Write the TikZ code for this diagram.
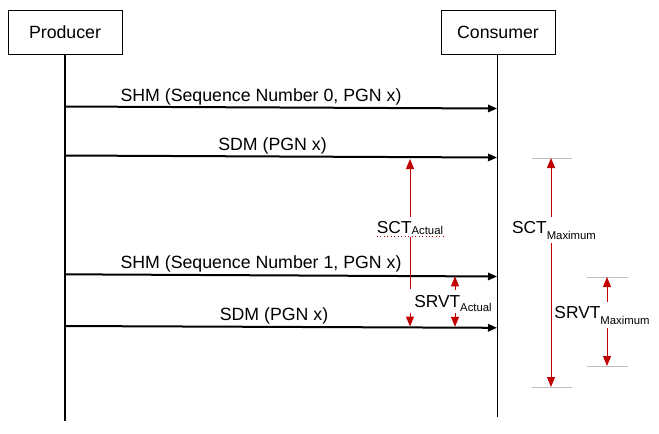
\documentclass[tikz,border=0pt]{standalone}
\usepackage{fontspec}
\setmainfont{Liberation Sans}
\usetikzlibrary{arrows.meta}
\definecolor{dimred}{HTML}{C00000}
\definecolor{tickgray}{HTML}{BFBFBF}
\newcommand\subtxt[2]{\raisebox{-#1}{\fontsize{8.5}{10}\selectfont #2}}
\begin{document}
\begin{tikzpicture}[x=0.75pt,y=-0.75pt,
  actor/.style={draw=black,line width=0.75pt,minimum width=85.5pt,minimum height=33pt,inner sep=0pt,font=\fontsize{13.3}{15}\selectfont},
  lifeline/.style={draw=black,line width=0.85pt},
  msg/.style={draw=black,line width=1.5pt,-{Triangle[length=6.75pt,width=5.5pt]}},
  msglabel/.style={anchor=base,inner sep=0pt,font=\fontsize{13.3}{15}\selectfont},
  dimlabel/.style={anchor=base,inner sep=0pt,font=\fontsize{13}{15}\selectfont},
  dimline/.style={draw=dimred,line width=0.75pt},
  dimtip/.style={dimline,-{Triangle[length=7.5pt,width=6pt]}},
  tick/.style={draw=tickgray,line width=0.75pt}]
\useasboundingbox (0,0) rectangle (659,433);

% actors
\node[actor] (prod) at (65,32) {Producer};
\node[actor] (cons) at (498,32) {Consumer};
\coordinate (prodtop) at (65,54);
\coordinate (prodend) at (65,421);
\coordinate (constop) at (497.5,54);
\coordinate (consend) at (497.5,417);
\draw[lifeline] (prodtop) -- (prodend);
\draw[lifeline] (constop) -- (consend);

% messages
\coordinate (m1s) at (65,106.5);  \coordinate (m1e) at (497,108.5);
\coordinate (m2s) at (65,155.5);  \coordinate (m2e) at (497,157.5);
\coordinate (m3s) at (65,274.3);  \coordinate (m3e) at (497,276.5);
\coordinate (m4s) at (65,326);    \coordinate (m4e) at (497,327.8);
\draw[msg] (m1s) -- (m1e);
\draw[msg] (m2s) -- (m2e);
\draw[msg] (m3s) -- (m3e);
\draw[msg] (m4s) -- (m4e);
\node[msglabel] (l1) at (261,101) {SHM (Sequence Number 0, PGN x)};
\node[msglabel] (l2) at (272.5,150) {SDM (PGN x)};
\node[msglabel] (l3) at (261,268) {SHM (Sequence Number 1, PGN x)};
\node[msglabel] (l4) at (274,320) {SDM (PGN x)};

% SCT actual
\coordinate (sa1) at (410,159); \coordinate (sa2) at (410,217);
\coordinate (sa3) at (410,237); \coordinate (sa4) at (410,289);
\coordinate (sa5) at (410,313); \coordinate (sa6) at (410,326.5);
\draw[dimtip] (sa2) -- (sa1);
\draw[dimline] (sa3) -- (sa4);
\draw[dimtip] (sa5) -- (sa6);
\node[dimlabel] (sctact) at (410,233) {SCT\subtxt{1pt}{Actual}};
\coordinate (ul1) at (377,236); \coordinate (ul2) at (444,236);
\draw[dimred,dotted,line width=0.6pt] (ul1) -- (ul2);

% SRVT actual
\coordinate (ra1) at (455,276.3); \coordinate (ra2) at (455,290);
\coordinate (ra3) at (455,313);   \coordinate (ra4) at (455,326.8);
\draw[dimtip] (ra2) -- (ra1);
\draw[dimtip] (ra3) -- (ra4);
\node[dimlabel] (srvtact) at (453,307) {SRVT\subtxt{3.5pt}{Actual}};

% SCT maximum
\coordinate (t1a) at (532,158); \coordinate (t1b) at (572,158);
\coordinate (t2a) at (532,387); \coordinate (t2b) at (572,387);
\draw[tick] (t1a) -- (t1b);
\draw[tick] (t2a) -- (t2b);
\coordinate (sm1) at (551,158); \coordinate (sm2) at (551,217);
\coordinate (sm3) at (551,243); \coordinate (sm4) at (551,387);
\draw[dimtip] (sm2) -- (sm1);
\draw[dimtip] (sm3) -- (sm4);
\node[dimlabel] (sctmax) at (554,233) {SCT\subtxt{4.5pt}{Maximum}};

% SRVT maximum
\coordinate (t3a) at (587,277); \coordinate (t3b) at (628,277);
\coordinate (t4a) at (587,366); \coordinate (t4b) at (628,366);
\draw[tick] (t3a) -- (t3b);
\draw[tick] (t4a) -- (t4b);
\coordinate (rm1) at (607,277); \coordinate (rm2) at (607,302);
\coordinate (rm3) at (607,328); \coordinate (rm4) at (607,366);
\draw[dimtip] (rm2) -- (rm1);
\draw[dimtip] (rm3) -- (rm4);
\node[dimlabel] (srvtmax) at (602,318) {SRVT\subtxt{4.5pt}{Maximum}};
\end{tikzpicture}
\end{document}
